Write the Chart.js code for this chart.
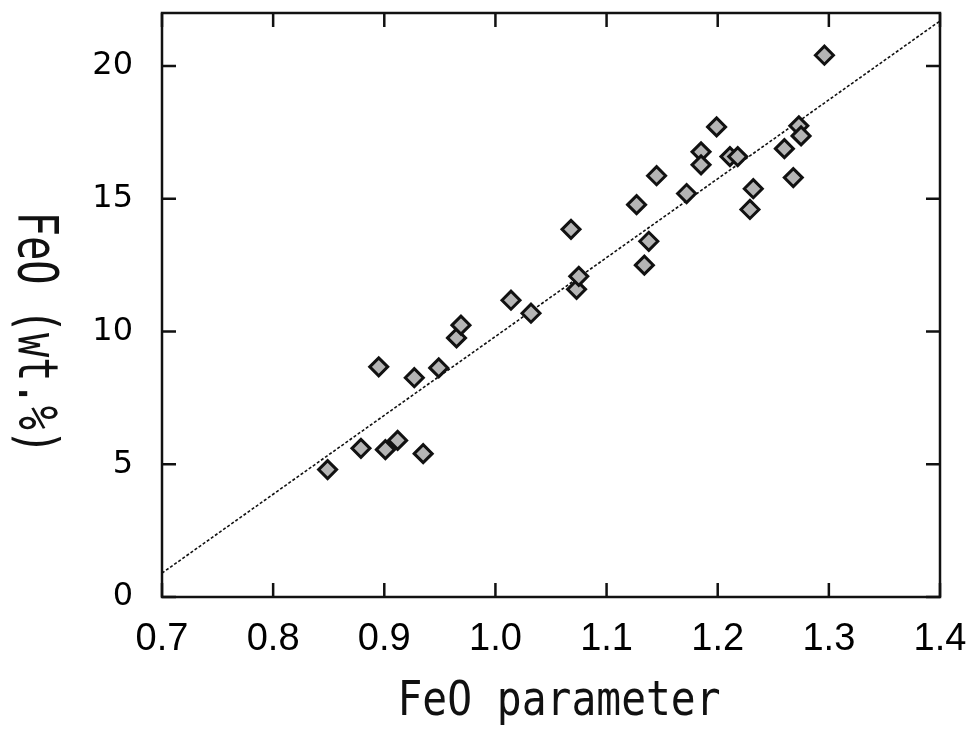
<!DOCTYPE html>
<html>
<head>
<meta charset="utf-8">
<title>FeO parameter</title>
<script src="https://cdn.jsdelivr.net/npm/chart.js@4.4.1/dist/chart.umd.min.js"></script>
<style>
  html, body { margin: 0; padding: 0; background: #fff; }
  #wrap { width: 976px; height: 733px; }
</style>
</head>
<body>
<div id="wrap"><canvas id="graphique"></canvas></div>
<script>
// donnees
const feoParam = [0.849, 0.879, 0.901, 0.912, 0.935, 0.895, 0.927, 0.949, 0.965, 0.969,
                  1.014, 1.032, 1.068, 1.073, 1.075, 1.127, 1.134, 1.138, 1.145, 1.172,
                  1.185, 1.185, 1.199, 1.211, 1.218, 1.229, 1.232, 1.260, 1.268, 1.273,
                  1.275, 1.296];
const feoWt = [4.80, 5.60, 5.55, 5.90, 5.40, 8.67, 8.26, 8.63, 9.76, 10.24,
               11.18, 10.69, 13.85, 11.59, 12.08, 14.78, 12.50, 13.40, 15.87, 15.20,
               16.77, 16.28, 17.71, 16.59, 16.59, 14.60, 15.38, 16.89, 15.80, 17.75,
               17.37, 20.41];
const droiteX = [0.7, 1.4];
const droiteY = [0.9, 21.7];
const xTicks = [0.7, 0.8, 0.9, 1.0, 1.1, 1.2, 1.3, 1.4];
const yTicks = [0, 5, 10, 15, 20];
const xTitre = "FeO parameter";
const yTitre = "FeO (wt.%)";

const points = feoParam.map((x, i) => ({ x: x, y: feoWt[i] }));
const droite = droiteX.map((x, i) => ({ x: x, y: droiteY[i] }));

// cadre, petites graduations interieures et titres des axes
const cadrePlugin = {
  id: "cadre",
  afterDraw(chart) {
    const ctx = chart.ctx;
    const a = chart.chartArea;
    const sx = chart.scales.x, sy = chart.scales.y;
    const len = 14;
    ctx.save();
    ctx.strokeStyle = "#111";
    ctx.lineWidth = 2.5;
    ctx.strokeRect(a.left, a.top, a.right - a.left, a.bottom - a.top);
    ctx.beginPath();
    for (const v of xTicks) {
      const px = sx.getPixelForValue(v);
      ctx.moveTo(px, a.bottom); ctx.lineTo(px, a.bottom - len);
      ctx.moveTo(px, a.top); ctx.lineTo(px, a.top + len);
    }
    for (const v of yTicks) {
      const py = sy.getPixelForValue(v);
      ctx.moveTo(a.left, py); ctx.lineTo(a.left + len, py);
      ctx.moveTo(a.right, py); ctx.lineTo(a.right - len, py);
    }
    ctx.stroke();

    ctx.fillStyle = "#111";
    ctx.textAlign = "center";
    ctx.textBaseline = "alphabetic";
    // titre x
    ctx.save();
    ctx.font = '48px "DejaVu Sans Mono"';
    ctx.translate(559, 715);
    ctx.scale(0.86, 1);
    ctx.fillText(xTitre, 0, 0);
    ctx.restore();
    // titre y, lu de haut en bas
    ctx.save();
    ctx.font = '56px "DejaVu Sans Mono"';
    ctx.translate(19, 333);
    ctx.rotate(Math.PI / 2);
    ctx.scale(0.72, 1);
    ctx.fillText(yTitre, 0, 0);
    ctx.restore();
    ctx.restore();
  }
};

const config = {
  type: "scatter",
  data: {
    datasets: [
      {
        label: "droite",
        data: droite,
        showLine: true,
        borderColor: "#111",
        borderWidth: 1.6,
        borderDash: [3, 2],
        pointRadius: 0,
        order: 2
      },
      {
        label: "FeO",
        data: points,
        pointStyle: "rectRot",
        pointRadius: 9,
        pointBorderWidth: 3,
        pointBorderColor: "#111",
        pointBackgroundColor: "#b5b5b5",
        order: 1
      }
    ]
  },
  options: {
    responsive: true,
    maintainAspectRatio: false,
    animation: false,
    layout: { padding: { top: 13, right: 36, left: 0, bottom: 0 } },
    plugins: {
      legend: { display: false },
      tooltip: { enabled: false }
    },
    scales: {
      x: {
        type: "linear",
        min: 0.7,
        max: 1.4,
        afterBuildTicks: (s) => { s.ticks = xTicks.map(v => ({ value: v })); },
        afterFit: (s) => { s.height = 733 - 597; s.paddingLeft = 0; s.paddingRight = 0; },
        grid: { display: false, drawTicks: false },
        border: { display: false },
        ticks: {
          color: "#000",
          font: { family: '"Liberation Sans"', size: 38 },
          padding: 20,
          maxRotation: 0,
          callback: (v) => Number(v).toFixed(1)
        }
      },
      y: {
        type: "linear",
        min: 0,
        max: 22,
        afterBuildTicks: (s) => { s.ticks = yTicks.map(v => ({ value: v })); },
        afterFit: (s) => { s.width = 162; s.paddingTop = 0; s.paddingBottom = 0; },
        grid: { display: false, drawTicks: false },
        border: { display: false },
        ticks: {
          color: "#000",
          font: { family: '"DejaVu Sans"', size: 32 },
          padding: 29
        }
      }
    }
  },
  plugins: [cadrePlugin]
};

const graphique = new Chart(document.querySelector("#graphique"), config);
</script>
</body>
</html>
